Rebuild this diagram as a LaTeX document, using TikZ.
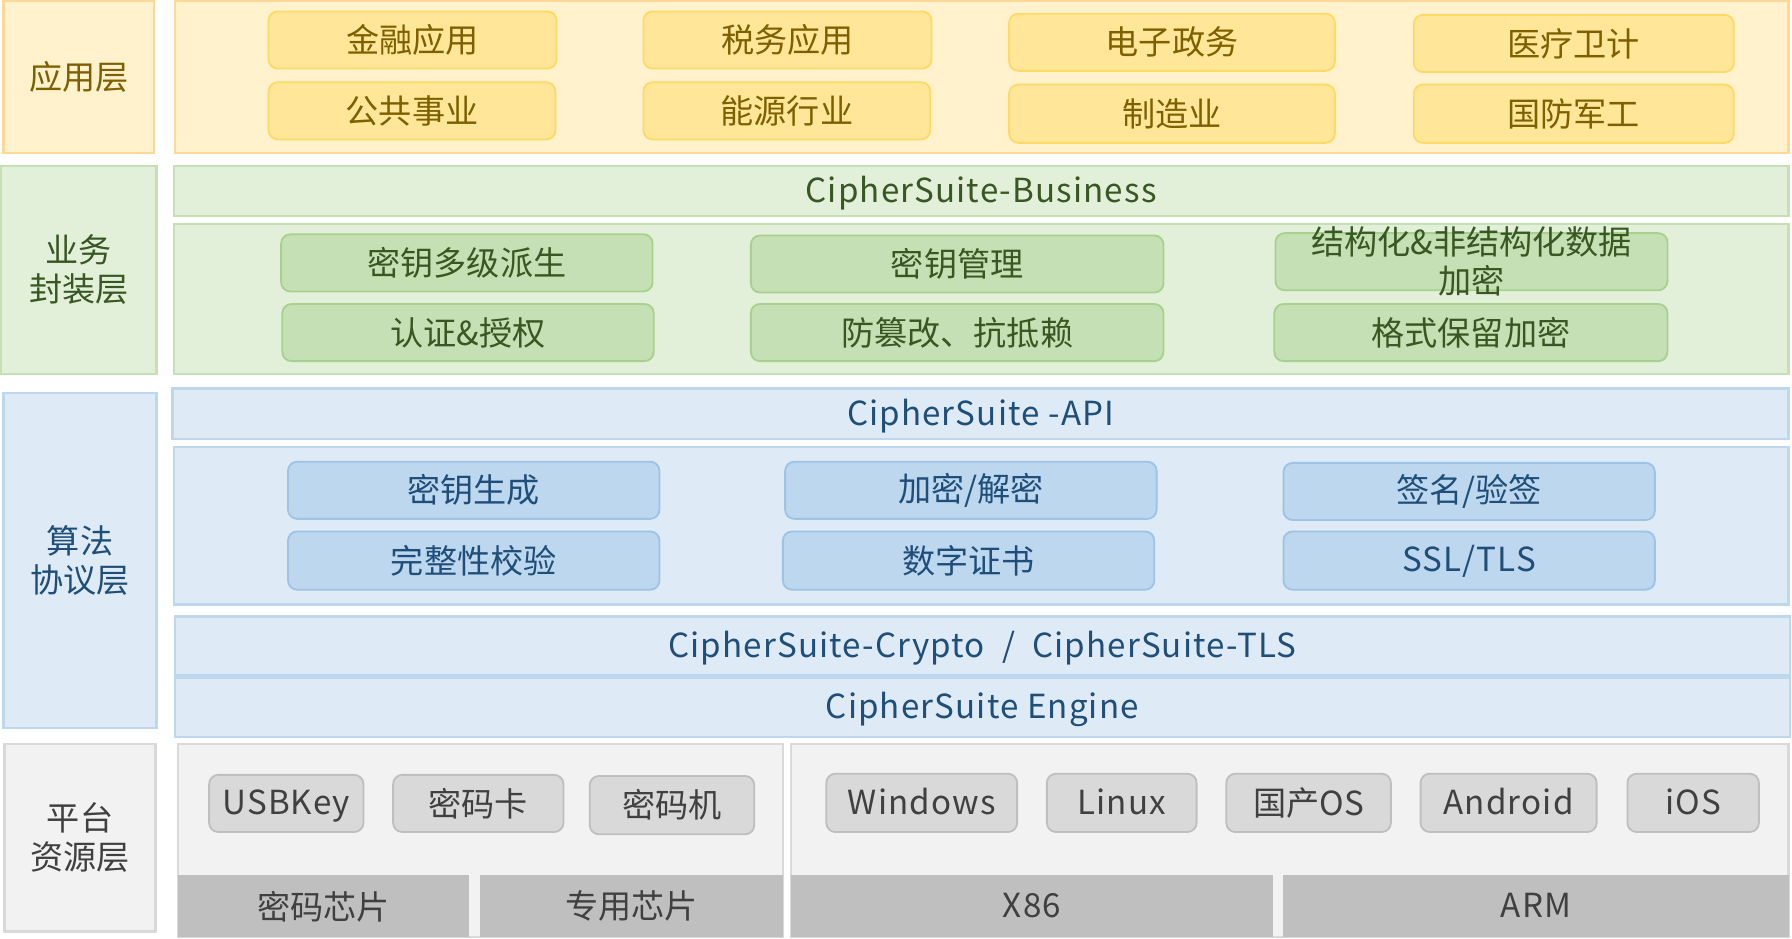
\documentclass[tikz,border=0pt]{standalone}
\usepackage{fontspec}
\setmainfont{Noto Sans CJK SC}
\newfontfamily\latfont{Noto Sans CJK SC}[LetterSpace=3.4]
\definecolor{yfill}{HTML}{FFF2CC}
\definecolor{ydraw}{HTML}{FFD797}
\definecolor{yifill}{HTML}{FFE699}
\definecolor{yidraw}{HTML}{FFD966}
\definecolor{ytext}{HTML}{7F6000}
\definecolor{gfill}{HTML}{E2F0D9}
\definecolor{gdraw}{HTML}{C5E0B4}
\definecolor{gifill}{HTML}{C5E0B4}
\definecolor{gidraw}{HTML}{A9D18E}
\definecolor{gtext}{HTML}{385723}
\definecolor{bfill}{HTML}{DEEBF7}
\definecolor{bdraw}{HTML}{BDD7EE}
\definecolor{bifill}{HTML}{BDD7EE}
\definecolor{bidraw}{HTML}{9DC3E6}
\definecolor{btext}{HTML}{1F4E79}
\definecolor{kfill}{HTML}{F2F2F2}
\definecolor{kdraw}{HTML}{D9D9D9}
\definecolor{kifill}{HTML}{D9D9D9}
\definecolor{kidraw}{HTML}{BFBFBF}
\definecolor{kbar}{HTML}{BFBFBF}
\definecolor{ktext}{HTML}{404040}
\newcommand{\mybox}[7]{%
  \node[#2, minimum width={#5pt-#3pt}, minimum height={#6pt-#4pt}]
    (#1) at ({(#3+#5)/2},{(#4+#6)/2}) {#7};}
\tikzset{
  base/.style={rectangle, inner sep=0pt, align=center,
    font=\fontsize{29pt}{34pt}\selectfont},
  lat/.style={font=\fontsize{29pt}{34pt}\latfont, text height=24.4pt, text depth=4.6pt},
  yout/.style={base, fill=yfill, draw=ydraw, line width=2pt, text=ytext},
  yin/.style={base, fill=yifill, draw=yidraw, line width=1.6pt, rounded corners=8pt, text=ytext},
  gout/.style={base, fill=gfill, draw=gdraw, line width=2pt, text=gtext},
  gin/.style={base, fill=gifill, draw=gidraw, line width=1.6pt, rounded corners=8pt, text=gtext},
  bout/.style={base, fill=bfill, draw=bdraw, line width=2pt, text=btext},
  bin/.style={base, fill=bifill, draw=bidraw, line width=1.6pt, rounded corners=8pt, text=btext},
  kout/.style={base, fill=kfill, draw=kdraw, line width=2pt, text=ktext},
  kin/.style={base, fill=kifill, draw=kidraw, line width=1.6pt, rounded corners=8pt, text=ktext},
  kbarst/.style={base, fill=kbar, text=ktext},
}
\begin{document}
\begin{tikzpicture}[x=1pt,y=-1pt]
\useasboundingbox[fill=white] (0,0) rectangle (1568,821.6);
% ---------- application layer
\mybox{appL}{yout}{3}{1}{135}{134}{应用层}
\mybox{appR}{yout}{153}{1}{1565}{134}{}
\mybox{a1}{yin}{235}{10}{487}{60}{金融应用}
\mybox{a2}{yin}{235}{72}{486}{122}{公共事业}
\mybox{a3}{yin}{563}{10}{815}{60}{税务应用}
\mybox{a4}{yin}{563}{72}{814}{122}{能源行业}
\mybox{a5}{yin}{883}{12}{1168}{62}{电子政务}
\mybox{a6}{yin}{883}{74}{1168}{125}{制造业}
\mybox{a7}{yin}{1237}{13}{1517}{63}{医疗卫计}
\mybox{a8}{yin}{1237}{74}{1517}{125}{国防军工}
% ---------- business layer
\mybox{busL}{gout}{1}{145}{137}{327}{业务\\封装层}
\mybox{busBar}{gout,lat}{152}{145}{1565}{189}{CipherSuite-Business}
\mybox{busR}{gout}{152}{196}{1565}{327}{}
\mybox{b1}{gin}{246}{205}{571}{255}{密钥多级派生}
\mybox{b2}{gin}{247}{266}{572}{316}{认证\&授权}
\mybox{b3}{gin}{657}{206}{1018}{256}{密钥管理}
\mybox{b4}{gin}{657}{266}{1018}{316}{防篡改、抗抵赖}
\mybox{b5}{gin}{1116}{204}{1459}{254}{}
\node[base, text=gtext] (b5t) at (b5.center) {结构化\&非结构化数据\\加密};
\mybox{b6}{gin}{1115}{266}{1459}{316}{格式保留加密}
% ---------- algorithm layer
\mybox{algL}{bout}{3}{344}{137}{637}{算法\\协议层}
\mybox{apiBar}{bout,lat}{151}{340}{1565}{384}{CipherSuite -API}
\mybox{algR}{bout}{152}{391}{1565}{529}{}
\mybox{c1}{bin}{252}{404}{577}{454}{密钥生成}
\mybox{c2}{bin}{252}{465}{577}{516}{完整性校验}
\mybox{c3}{bin}{687}{404}{1012}{454}{加密/解密}
\mybox{c4}{bin}{685}{465}{1010}{516}{数字证书}
\mybox{c5}{bin}{1123}{405}{1448}{455}{签名/验签}
\mybox{c6}{bin,lat}{1123}{465}{1448}{516}{SSL/TLS}
\mybox{cryBar}{bout,lat}{153}{539.5}{1566}{591}{CipherSuite-Crypto \ / \ CipherSuite-TLS}
\mybox{engBar}{bout,lat}{153}{593}{1566}{645}{CipherSuite Engine}
% ---------- platform layer
\mybox{platL}{kout}{4}{651}{136}{815}{平台\\资源层}
\mybox{platA}{kout}{156}{651}{685}{820}{}
\mybox{platB}{kout}{692}{651}{1565}{820}{}
\mybox{d1}{kin,lat}{183}{678}{318}{728}{USBKey}
\mybox{d2}{kin}{344}{678}{493}{728}{密码卡}
\mybox{d3}{kin}{516}{679}{660}{730}{密码机}
\mybox{d4}{kin,lat}{723}{677}{890}{728}{Windows}
\mybox{d5}{kin,lat}{916}{677}{1047}{728}{Linux}
\mybox{d6}{kin}{1073}{677}{1217}{728}{国产OS}
\mybox{d7}{kin,lat}{1243}{677}{1397}{728}{Android}
\mybox{d8}{kin,lat}{1424}{677}{1539}{728}{iOS}
\mybox{e1}{kbarst}{156}{766}{410}{820}{密码芯片}
\mybox{e2}{kbarst}{420}{766}{685}{820}{专用芯片}
\mybox{e3}{kbarst,lat}{692}{766}{1114}{820}{X86}
\mybox{e4}{kbarst,lat}{1123}{766}{1565}{820}{ARM}
\end{tikzpicture}
\end{document}
